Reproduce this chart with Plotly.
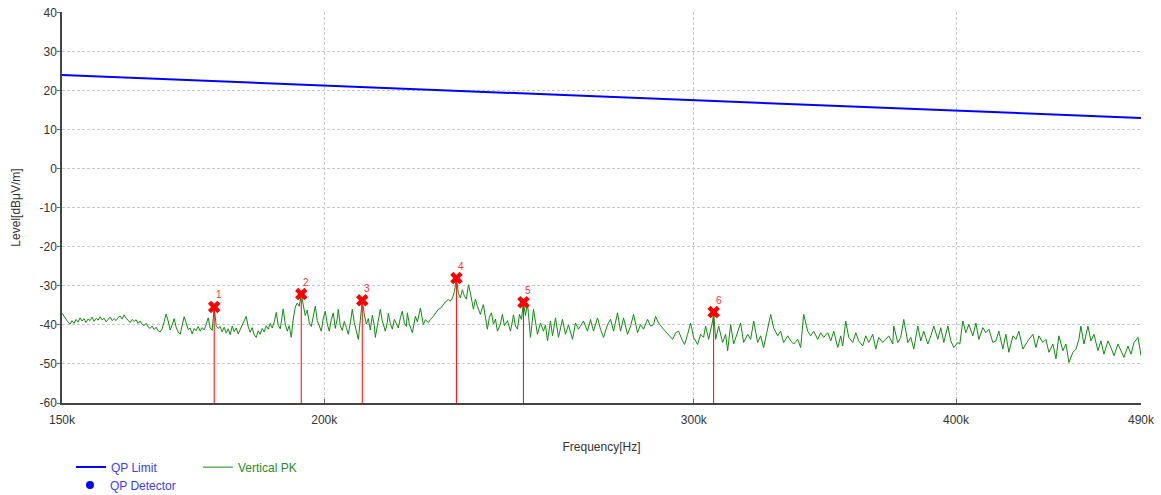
import numpy as np
import plotly.graph_objects as go

# ---------------- data ----------------
LIMIT_FREQ_KHZ = [150, 490]
LIMIT_DB = [24.0, 13.0]

MARKER_FREQ_KHZ = [177.26, 195.02, 208.52, 231.21, 248.86, 306.60]
MARKER_DB = [-35.4, -32.1, -33.7, -28.0, -34.2, -36.7]
MARKER_LABELS = ["1", "2", "3", "4", "5", "6"]

X_TICK_KHZ = [150, 200, 300, 400, 490]
X_TICK_TEXT = ["150k", "200k", "300k", "400k", "490k"]
Y_TICKS = [-60, -50, -40, -30, -20, -10, 0, 10, 20, 30, 40]
Y_TICK_TEXT = ["-60", "-50", "-40", "-30", "-20", "-10", "0", "10", "20", "30", "40"]

# Vertical PK trace, read in segments
PK_FREQ_A = [150.00, 150.33, 150.67, 151.00, 151.33, 151.66, 152.00, 152.33, 152.67, 153.00,
             153.33, 153.67, 154.01, 154.35, 154.69, 155.04, 155.38, 155.72, 156.06, 156.40,
             156.74, 157.09, 157.44, 157.78, 158.13, 158.48, 158.83, 159.18, 159.52, 159.87,
             160.22, 160.58, 160.93, 161.29, 161.64, 162.00, 162.35, 162.71, 163.06, 163.42,
             163.77, 164.13, 164.50, 164.86, 165.23, 165.59, 165.95, 166.32, 166.68, 167.05,
             167.41, 167.78, 168.15, 168.53, 168.90, 169.27, 169.64, 170.01, 170.39, 170.76,
             171.13, 171.51, 171.89, 172.27, 172.65, 173.03, 173.41, 173.79, 174.17, 174.55,
             174.93, 175.32, 175.71, 176.09, 176.48, 176.87, 177.26, 177.65, 178.03, 178.42]
PK_DB_A = [-37.0, -37.8, -38.5, -39.3, -39.8, -38.9, -39.6, -38.6, -39.3, -38.2,
           -39.0, -38.4, -39.4, -38.5, -38.9, -38.0, -39.1, -38.3, -38.8, -37.9,
           -38.7, -38.3, -39.2, -38.6, -38.0, -38.9, -38.4, -38.9, -38.1, -37.7,
           -38.5, -37.4, -38.3, -38.8, -39.4, -38.6, -39.1, -38.7, -39.6, -39.0,
           -39.8, -40.2, -39.6, -40.5, -40.9, -40.3, -41.2, -40.6, -41.5, -41.8,
           -41.1, -39.2, -37.2, -39.0, -41.3, -40.0, -38.4, -40.6, -41.8, -42.4,
           -40.1, -37.9, -39.5, -41.2, -40.8, -42.3, -40.9, -41.5, -40.4, -41.6,
           -40.7, -41.3, -39.8, -38.2, -40.8, -41.4, -35.5, -40.2, -40.9, -40.4]

PK_FREQ_B = [178.81, 179.21, 179.60, 180.00, 180.40, 180.80, 181.19, 181.59, 181.99, 182.38,
             182.78, 183.19, 183.59, 184.00, 184.40, 184.81, 185.21, 185.62, 186.03, 186.43,
             186.84, 187.26, 187.67, 188.09, 188.50, 188.92, 189.33, 189.75, 190.16, 190.58,
             190.99, 191.20, 191.63, 192.05, 192.47, 192.90, 193.32, 193.75, 194.17, 194.59,
             195.02, 195.45, 195.88, 196.31, 196.75, 197.18, 197.61, 198.05, 198.48, 198.91,
             199.35, 199.78, 200.22, 200.67, 201.11, 201.55, 202.00, 202.44, 202.89, 203.11,
             203.56, 204.00, 204.45, 204.90, 205.36, 205.81, 206.26, 206.71, 207.16, 207.62,
             208.07, 208.52, 208.98, 209.45, 209.91, 210.37, 210.84]
PK_DB_B = [-41.8, -40.6, -42.1, -41.0, -42.5, -40.3, -41.7, -40.8, -42.3, -41.2,
           -40.1, -39.0, -37.8, -40.5, -41.9, -40.7, -42.6, -43.2, -41.5, -42.4,
           -40.9, -41.8, -40.2, -41.1, -39.6, -40.8, -39.2, -36.8, -40.1, -41.0,
           -38.2, -35.9, -39.8, -41.6, -40.2, -43.2, -38.5, -35.4, -34.4, -35.2,
           -32.2, -35.0, -37.6, -36.2, -39.5, -40.4, -38.1, -35.2, -38.9, -40.3,
           -41.6, -38.4, -36.5, -39.8, -41.6, -38.7, -36.9, -40.9, -38.3, -36.0,
           -40.2, -41.4, -39.1, -40.6, -42.4, -39.5, -36.0, -39.4, -41.8, -43.7,
           -38.9, -33.8, -37.2, -39.8, -38.4, -41.3, -37.5]

PK_FREQ_C = [211.30, 211.53, 211.99, 212.46, 212.69, 213.15, 213.86, 214.34, 214.57, 215.05,
             215.52, 215.99, 216.47, 216.94, 217.42, 217.89, 218.37, 218.86, 219.10, 219.58,
             220.31, 220.79, 221.04, 221.52, 222.25, 222.98, 223.47, 224.21, 224.71, 225.45,
             225.94, 226.68, 227.18, 227.92, 228.43, 229.19, 229.69, 230.20, 230.70, 231.21,
             231.72, 232.22, 232.73, 233.25, 233.76, 234.28, 234.79, 235.57, 236.08, 236.60,
             237.37, 238.15, 238.68, 239.21, 239.74, 240.27, 240.80, 241.33, 241.86, 242.65,
             243.18, 243.72, 244.53, 245.34, 245.88, 246.15, 246.69, 247.23, 247.77, 248.31,
             248.86, 249.41, 249.96, 250.79]
PK_DB_C = [-40.2, -43.2, -40.5, -37.1, -36.0, -38.9, -41.6, -39.3, -37.0, -39.6,
           -41.1, -38.6, -39.9, -40.8, -38.2, -36.5, -39.5, -40.4, -36.9, -39.8,
           -42.0, -39.4, -37.8, -39.2, -35.7, -39.9, -38.7, -39.4, -38.6, -37.8,
           -37.1, -36.0, -35.8, -34.8, -34.1, -33.5, -33.9, -33.1, -31.5, -28.1,
           -31.9, -33.1, -31.0, -32.6, -33.4, -29.7, -31.8, -36.0, -33.4, -35.2,
           -37.3, -34.8, -37.9, -41.1, -38.0, -36.9, -39.8, -38.5, -41.6, -39.8,
           -37.3, -40.2, -38.9, -41.6, -39.0, -37.4, -40.3, -41.1, -37.3, -38.6,
           -34.3, -37.6, -34.4, -43.2]

PK_FREQ_D = [251.62, 252.17, 252.72, 253.55, 254.38, 254.95, 255.51, 256.36, 256.92, 257.77,
             258.61, 259.74, 260.60, 261.47, 262.62, 263.48, 264.35, 265.80, 266.97, 267.86,
             268.74, 269.92, 270.81, 271.70, 272.91, 273.81, 274.72, 275.92, 276.83, 277.74,
             278.97, 279.89, 280.82, 282.05, 282.97, 283.90, 285.16, 286.11, 287.05, 287.68,
             288.62, 289.88, 290.85, 291.81, 293.10, 294.07, 295.03, 296.32, 296.98]
PK_DB_D = [-36.0, -39.3, -42.4, -39.5, -41.6, -40.0, -44.1, -39.0, -42.8, -38.2,
           -43.2, -38.6, -42.4, -40.0, -43.7, -39.5, -41.1, -39.0, -41.6, -38.6,
           -41.6, -38.2, -41.1, -43.2, -39.9, -38.6, -41.6, -36.9, -41.6, -38.2,
           -42.4, -40.3, -37.3, -42.0, -39.9, -41.1, -38.6, -40.3, -39.9, -37.8,
           -39.5, -40.8, -41.6, -42.4, -43.7, -42.0, -41.6, -44.1, -45.0]

PK_FREQ_E = [297.97, 298.95, 299.94, 301.26, 302.24, 303.24, 303.91, 304.92, 306.27, 306.60,
             307.28, 308.29, 309.63, 310.66, 311.35, 312.38, 313.41, 314.78, 315.81, 316.85,
             318.26, 319.31, 320.37, 321.77, 322.83, 323.89, 325.32, 326.40, 327.48, 328.91,
             329.99, 331.08, 332.55, 333.65, 334.75, 336.22, 337.32, 338.43, 339.93, 341.05,
             342.18, 343.68, 344.81, 345.94, 347.49, 348.64, 349.79, 351.32, 352.47]
PK_DB_E = [-42.4, -39.5, -43.2, -45.0, -42.4, -43.2, -40.3, -43.7, -39.0, -36.8,
           -43.7, -40.3, -44.5, -42.4, -46.6, -39.9, -44.9, -42.0, -39.5, -44.5,
           -42.4, -43.7, -39.0, -44.5, -42.8, -45.8, -41.1, -37.3, -40.8, -42.8,
           -41.6, -44.5, -42.8, -44.1, -44.9, -43.7, -45.8, -37.3, -41.6, -42.8,
           -41.6, -43.7, -42.0, -43.2, -42.0, -44.1, -41.6, -45.8, -42.8]

PK_FREQ_F = [353.23, 354.41, 355.59, 357.16, 358.33, 359.51, 361.08, 362.28, 363.48, 365.09,
             366.29, 367.49, 369.09, 370.32, 371.55, 373.19, 373.60, 375.24, 376.47, 377.71,
             379.39, 380.65, 381.90, 383.58, 384.84, 386.10, 387.81, 389.09, 390.38, 392.09,
             393.37, 394.67, 396.42, 397.73, 399.05, 400.80, 401.67, 402.98, 404.32, 405.67,
             407.46, 408.80, 410.14, 411.93, 413.30, 414.68, 416.51]
PK_DB_F = [-45.4, -39.0, -43.2, -44.5, -42.0, -44.1, -45.4, -42.8, -44.5, -42.4,
           -46.2, -43.2, -44.5, -43.7, -42.8, -44.9, -40.3, -44.5, -43.2, -38.6,
           -44.5, -43.2, -46.2, -40.3, -44.1, -41.6, -44.9, -42.8, -40.3, -43.7,
           -40.7, -44.5, -40.3, -44.1, -45.8, -44.5, -44.9, -39.0, -42.0, -39.9,
           -42.8, -39.5, -43.7, -40.7, -42.0, -41.1, -44.5]

PK_FREQ_G = [417.88, 419.25, 421.08, 422.48, 423.89, 425.76, 427.16, 428.56, 430.43, 431.86,
             433.30, 435.21, 436.64, 438.08, 439.99, 441.46, 442.92, 444.88, 446.34, 447.81,
             449.76, 451.26, 452.75, 454.75, 456.25, 457.74, 458.74, 460.25, 462.29, 463.82,
             465.36, 467.40, 468.93, 470.47, 472.56, 474.12, 475.69, 477.77, 479.34, 480.91,
             483.05, 484.65, 486.26, 488.40, 490.00]
PK_DB_G = [-44.1, -41.6, -46.2, -42.4, -47.0, -42.8, -43.7, -41.6, -46.2, -44.9,
           -43.7, -42.4, -45.8, -42.8, -44.5, -43.7, -47.0, -44.9, -48.7, -42.8,
           -46.6, -44.9, -49.6, -47.0, -46.2, -43.7, -40.3, -44.9, -40.3, -44.1,
           -42.4, -46.6, -44.1, -47.5, -44.1, -45.8, -47.9, -44.9, -46.6, -48.3,
           -45.4, -47.5, -44.5, -43.2, -47.9]

# ---------------- assemble ----------------
seg_f = [PK_FREQ_A, PK_FREQ_B, PK_FREQ_C, PK_FREQ_D, PK_FREQ_E, PK_FREQ_F, PK_FREQ_G]
seg_v = [PK_DB_A, PK_DB_B, PK_DB_C, PK_DB_D, PK_DB_E, PK_DB_F, PK_DB_G]
pk_f, pk_v = [], []
for fs, vs in zip(seg_f, seg_v):
    n = min(len(fs), len(vs))
    pk_f += [f * 1000 for f in fs[:n]]
    pk_v += vs[:n]

Y_MIN, Y_MAX = Y_TICKS[0], Y_TICKS[-1]
FONT = "Liberation Sans, Arial, sans-serif"
TXT = "#333333"

fig = go.Figure()

fig.add_trace(go.Scatter(
    x=[f * 1000 for f in LIMIT_FREQ_KHZ], y=LIMIT_DB, mode="lines",
    line=dict(color="#0000ff", width=2), name="QP Limit", legend="legend"))

fig.add_trace(go.Scatter(
    x=pk_f, y=pk_v, mode="lines", line=dict(color="#138a13", width=1),
    name="Vertical PK", legend="legend2"))

fig.add_trace(go.Scatter(
    x=[None], y=[None], mode="markers",
    marker=dict(color="#0000ff", size=8, symbol="circle"),
    name="QP Detector", legend="legend3"))

# marker stems
stem_x, stem_y = [], []
for f, v in zip(MARKER_FREQ_KHZ, MARKER_DB):
    stem_x += [f * 1000, f * 1000, None]
    stem_y += [Y_MIN, v, None]
fig.add_trace(go.Scatter(x=stem_x, y=stem_y, mode="lines",
                         line=dict(color="#ff0000", width=1), showlegend=False,
                         hoverinfo="skip"))
fig.add_trace(go.Scatter(x=[f * 1000 for f in MARKER_FREQ_KHZ], y=MARKER_DB,
                         mode="markers",
                         marker=dict(symbol="x", size=11, color="#ff0000",
                                     line=dict(width=0)),
                         showlegend=False))

for f, v, t in zip(MARKER_FREQ_KHZ, MARKER_DB, MARKER_LABELS):
    fig.add_annotation(x=np.log10(f * 1000), y=v, text=t, showarrow=False,
                       xshift=5, yshift=12,
                       font=dict(family=FONT, size=10, color="#ff3333"))

fig.update_layout(
    width=1161, height=495,
    margin=dict(l=62, r=20, t=12, b=92, autoexpand=False),
    paper_bgcolor="white", plot_bgcolor="white",
    font=dict(family=FONT, size=12, color=TXT),
    legend=dict(x=0.0083, y=-0.164, xanchor="left", yanchor="middle",
                font=dict(size=12, color="#3c3cf0"), bgcolor="rgba(0,0,0,0)",
                itemwidth=30),
    legend2=dict(x=0.126, y=-0.164, xanchor="left", yanchor="middle",
                 font=dict(size=12, color="#2a8a2a"), bgcolor="rgba(0,0,0,0)",
                 itemwidth=30),
    legend3=dict(x=0.0074, y=-0.2097, xanchor="left", yanchor="middle",
                 font=dict(size=12, color="#3c3cf0"), bgcolor="rgba(0,0,0,0)",
                 itemwidth=30),
    showlegend=True,
)

fig.update_xaxes(
    type="log",
    range=[np.log10(LIMIT_FREQ_KHZ[0] * 1000), np.log10(LIMIT_FREQ_KHZ[-1] * 1000)],
    tickvals=[f * 1000 for f in X_TICK_KHZ], ticktext=X_TICK_TEXT,
    showgrid=True, gridcolor="#c8c8c8", griddash="3px,2px", gridwidth=1,
    showline=True, linecolor="#444444", linewidth=1.5,
    ticks="inside", ticklen=4, tickcolor="#666666",
    ticklabelstandoff=5,
    tickfont=dict(size=12, color=TXT),
    title=dict(text="Frequency[Hz]", font=dict(size=12, color=TXT), standoff=16),
    zeroline=False,
)
fig.update_yaxes(
    range=[Y_MIN, Y_MAX + 0.15], tickvals=Y_TICKS, ticktext=Y_TICK_TEXT,
    showgrid=True, gridcolor="#c8c8c8", griddash="3px,2px", gridwidth=1,
    showline=True, linecolor="#444444", linewidth=1.5,
    ticks="outside", ticklen=3, tickcolor="#666666",
    ticklabelstandoff=-2,
    tickfont=dict(size=12, color=TXT),
    title=dict(text="Level[dBμV/m]", font=dict(size=12, color=TXT), standoff=16),
    zeroline=False,
)

# remove the default 8px page margin so the figure fills the window exactly
fig.write_html("out.html",
               config={"displayModeBar": False},
               post_script="document.body.style.margin='0px';"
                           "document.body.style.overflow='hidden';")
